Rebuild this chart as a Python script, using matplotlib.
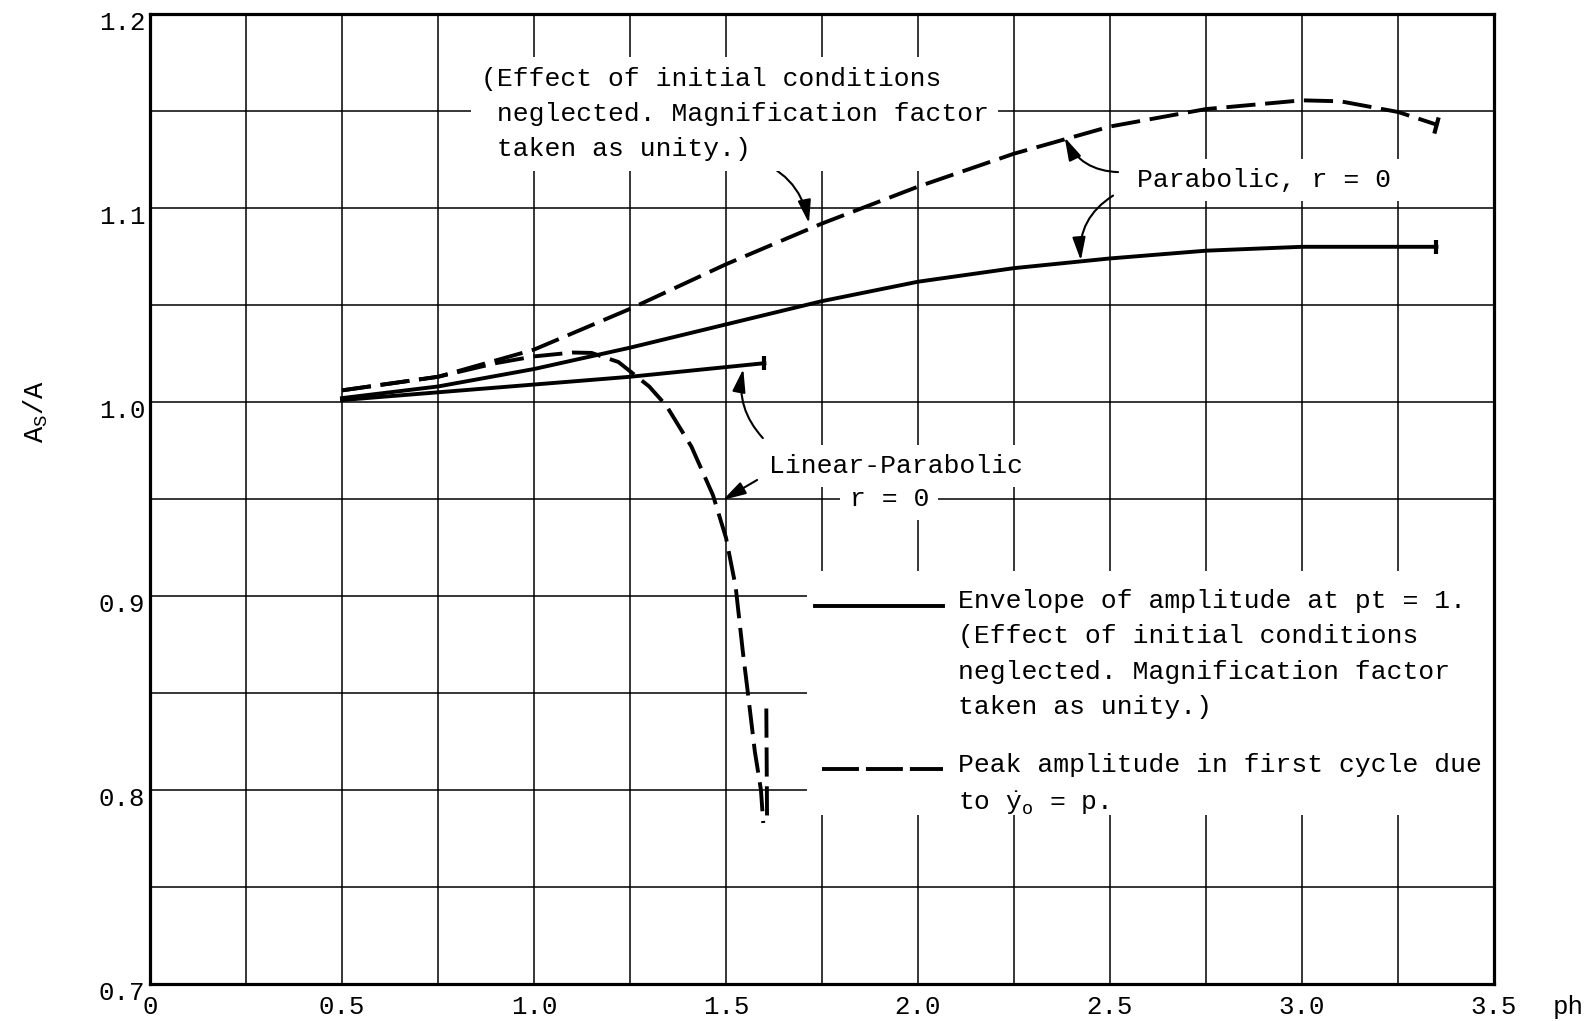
import matplotlib
matplotlib.use('Agg')
import matplotlib.pyplot as plt
import matplotlib.transforms as mtransforms
from matplotlib.lines import Line2D
from matplotlib.patches import Rectangle

plt.rcParams['font.family'] = ['Liberation Mono', 'DejaVu Sans']
plt.rcParams['mathtext.fontset'] = 'custom'
plt.rcParams['mathtext.rm'] = 'Liberation Mono'
plt.rcParams['mathtext.it'] = 'Liberation Mono'

# Parabolic, r = 0 : envelope of amplitude (solid)
par_env_x = [0.5, 0.75, 1.0, 1.25, 1.5, 1.75, 2.0, 2.25, 2.5, 2.75, 3.0, 3.35]
par_env_y = [1.002, 1.008, 1.017, 1.028, 1.040, 1.052, 1.062, 1.069, 1.074, 1.078, 1.080, 1.080]

# Parabolic, r = 0 : peak amplitude in first cycle (dashed)
par_peak_x = [0.5, 0.75, 1.0, 1.25, 1.5, 1.75, 2.0, 2.25, 2.5, 2.75, 3.0, 3.1, 3.25, 3.35]
par_peak_y = [1.006, 1.013, 1.027, 1.048, 1.071, 1.092, 1.111, 1.128, 1.142, 1.151, 1.1555,
              1.155, 1.1495, 1.143]

# Linear-Parabolic, r = 0 : envelope (solid)
lin_env_x = [0.5, 0.75, 1.0, 1.25, 1.5, 1.6]
lin_env_y = [1.001, 1.005, 1.009, 1.013, 1.018, 1.020]

# Linear-Parabolic, r = 0 : peak amplitude (dashed)
lin_peak_x = [0.5, 0.75, 0.9, 1.0, 1.1, 1.15, 1.22, 1.30, 1.345, 1.41, 1.466, 1.50,
              1.525, 1.544, 1.557, 1.575, 1.591, 1.597]
lin_peak_y = [1.006, 1.013, 1.020, 1.0235, 1.0255, 1.0253, 1.0206, 1.008, 0.998, 0.977,
              0.952, 0.930, 0.905, 0.871, 0.850, 0.820, 0.800, 0.783]
lin_tail_x = [1.605, 1.607]
lin_tail_y = [0.842, 0.783]

x_major = [0, 0.5, 1.0, 1.5, 2.0, 2.5, 3.0, 3.5]
x_labels = ['0', '0.5', '1.0', '1.5', '2.0', '2.5', '3.0', '3.5']
x_minor = [0.25, 0.75, 1.25, 1.75, 2.25, 2.75, 3.25]
y_major = [0.7, 0.8, 0.9, 1.0, 1.1, 1.2]
y_labels = ['0.7', '0.8', '0.9', '1.0', '1.1', '1.2']
y_minor = [0.75, 0.85, 0.95, 1.05, 1.15]

LW = 2.8
DASH = (7.5, 2.5)

fig = plt.figure(figsize=(15.95, 10.21), dpi=100)
ax = fig.add_axes([150 / 1595, 1 - 984 / 1021, 1344 / 1595, 970 / 1021])
ax.set_xlim(0, 3.5)
ax.set_ylim(0.7, 1.2)

ax.set_xticks(x_major)
ax.set_xticklabels(x_labels)
ax.set_xticks(x_minor, minor=True)
ax.set_yticks(y_major)
ax.set_yticklabels(y_labels)
ax.set_yticks(y_minor, minor=True)
ax.set_axisbelow(True)
ax.grid(which='both', color='black', linewidth=1.1)
ax.tick_params(which='both', length=0, labelsize=18.5)
ax.tick_params(axis='x', pad=8)
ax.tick_params(axis='y', pad=3.5)
for s in ax.spines.values():
    s.set_linewidth(2.3)

shift = mtransforms.ScaledTranslation(0, -4.5 / 72, fig.dpi_scale_trans)
for lab in ax.get_yticklabels():
    lab.set_transform(lab.get_transform() + shift)

ax.annotate('ph', xy=(3.693, 0), xycoords=('data', 'axes fraction'),
            xytext=(0, -8), textcoords='offset points',
            ha='center', va='top', fontsize=18.5, annotation_clip=False)
ax.text(-0.297, 0.995, 'A$_{\\mathrm{S}}$/A', rotation=90, ha='center', va='center',
        fontsize=19.5, clip_on=False)

# curves
ax.plot(par_env_x, par_env_y, color='black', lw=LW, marker='|', markevery=[len(par_env_x) - 1],
        ms=10, mew=3, zorder=5)
ax.plot(par_peak_x, par_peak_y, color='black', lw=LW, dashes=DASH, marker=(2, 0, -15),
        markevery=[len(par_peak_x) - 1], ms=12, mew=3, zorder=5)
ax.plot(lin_env_x, lin_env_y, color='black', lw=LW, marker='|', markevery=[len(lin_env_x) - 1],
        ms=10, mew=3, zorder=5)
ax.plot(lin_peak_x, lin_peak_y, color='black', lw=LW, dashes=DASH, zorder=5)
ax.plot(lin_tail_x, lin_tail_y, color='black', lw=LW, dashes=DASH, zorder=5)

box = dict(boxstyle='square,pad=0.35', facecolor='white', edgecolor='none')
arrow = dict(arrowstyle='-|>,head_length=0.7,head_width=0.2', color='black', lw=1.5,
             shrinkA=0, shrinkB=0, mutation_scale=20)

ax.text(0.861, 1.1485,
        '(Effect of initial conditions\n neglected. Magnification factor\n taken as unity.)',
        ha='left', va='center', fontsize=19, linespacing=1.6, bbox=box, zorder=4)
ax.annotate('', xy=(1.716, 1.0922), xytext=(1.561, 1.1259),
            arrowprops=dict(arrow, connectionstyle='arc3,rad=-0.3'))

ax.text(2.57, 1.1143, 'Parabolic, r = 0', ha='left', va='center', fontsize=19,
        bbox=dict(box, pad=0.15), zorder=4)
ax.annotate('', xy=(2.382, 1.1364), xytext=(2.521, 1.1185),
            arrowprops=dict(arrow, connectionstyle='arc3,rad=-0.3'))
ax.annotate('', xy=(2.424, 1.073), xytext=(2.508, 1.1064),
            arrowprops=dict(arrow, connectionstyle='arc3,rad=0.3'))

ax.text(1.944, 0.967, 'Linear-Parabolic', ha='center', va='center', fontsize=19,
        bbox=dict(box, pad=0.3), zorder=4)
ax.text(1.925, 0.950, 'r = 0', ha='center', va='center', fontsize=19,
        bbox=dict(box, pad=0.6), zorder=4)
ax.annotate('', xy=(1.545, 1.017), xytext=(1.596, 0.9814),
            arrowprops=dict(arrow, connectionstyle='arc3,rad=-0.25'))
ax.annotate('', xy=(1.492, 0.9495), xytext=(1.581, 0.9598),
            arrowprops=dict(arrow, connectionstyle='arc3,rad=0'))

# key block
ax.add_patch(Rectangle((1.71, 0.787), 3.5 - 1.71, 0.913 - 0.787, facecolor='white',
                       edgecolor='none', zorder=1))
ax.add_line(Line2D([0.495, 0.590], [0.39, 0.39], transform=ax.transAxes, color='black',
                   lw=LW, zorder=3))
ax.add_line(Line2D([0.500, 0.590], [0.222, 0.222], transform=ax.transAxes, color='black',
                   lw=LW, dashes=(9.5, 1.8), zorder=3))
ax.text(2.105, 0.870,
        'Envelope of amplitude at pt = 1.\n(Effect of initial conditions\n'
        'neglected. Magnification factor\ntaken as unity.)',
        ha='left', va='center', fontsize=19, linespacing=1.6, zorder=4)
ax.text(2.105, 0.8025, 'Peak amplitude in first cycle due\nto $\\dot{y}_{\\mathrm{o}}$ = p.',
        ha='left', va='center', fontsize=19, linespacing=1.6, zorder=4)

fig.savefig('out.png', dpi=100)
